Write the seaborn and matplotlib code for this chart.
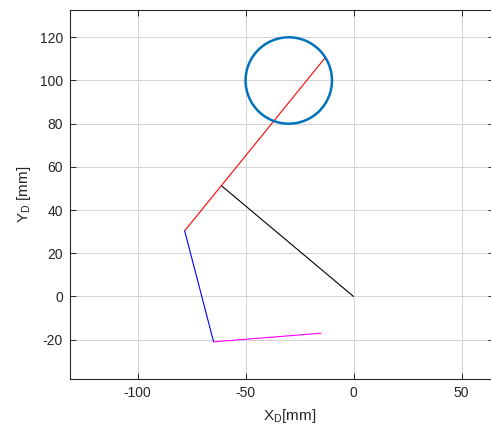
import seaborn as sns
import matplotlib.pyplot as plt
import pandas as pd
from matplotlib.patches import Circle

# link end points (mm)
black_x = [0.0, -61.3]
black_y = [0.0, 51.4]
red_x = [-78.2, -13.1]
red_y = [30.4, 110.6]
blue_x = [-78.2, -64.8]
blue_y = [30.4, -21.0]
magenta_x = [-64.8, -15.1]
magenta_y = [-21.0, -17.0]

circle_center = (-30.0, 100.0)
circle_radius = 20.0

x_ticks = [-100, -50, 0, 50]
y_ticks = [-20, 0, 20, 40, 60, 80, 100, 120]

sns.set_style('ticks')
plt.rcParams['font.family'] = ['Liberation Sans', 'DejaVu Sans']
plt.rcParams['axes.unicode_minus'] = False

fig = plt.figure(figsize=(4.91, 4.25), dpi=100)
ax = fig.add_axes([70 / 491, 46 / 425, 423.5 / 491, 368.7 / 425])

segments = [(black_x, black_y, 'black'), (red_x, red_y, '#ff0000'),
            (blue_x, blue_y, '#0000ff'), (magenta_x, magenta_y, '#ff00ff')]
for xs, ys, col in segments:
    df = pd.DataFrame({'x': xs, 'y': ys})
    sns.lineplot(data=df, x='x', y='y', sort=False, color=col, lw=0.8, ax=ax)

ax.add_patch(Circle(circle_center, circle_radius, fill=False,
                    edgecolor='#0072BD', lw=1.8, zorder=3))

ax.set_xlim(-131.3, 64.8)
ax.set_ylim(-38.2, 132.5)
ax.set_xticks(x_ticks)
ax.set_yticks(y_ticks)
ax.grid(True, color='#d4d4d4', lw=0.7)
ax.tick_params(direction='in', top=True, right=True, length=4, width=0.7,
               labelsize=10, colors='#262626', pad=5)
for s in ax.spines.values():
    s.set_color('#262626')
    s.set_linewidth(0.8)

ax.set_xlabel('X$_\\mathregular{D}$[mm]', fontsize=11, color='#262626')
ax.set_ylabel('Y$_\\mathregular{D}$ [mm]', fontsize=11, color='#262626', labelpad=5)
ax.xaxis.set_label_coords(0.519, -0.075)

plt.savefig('out.png', dpi=100)
